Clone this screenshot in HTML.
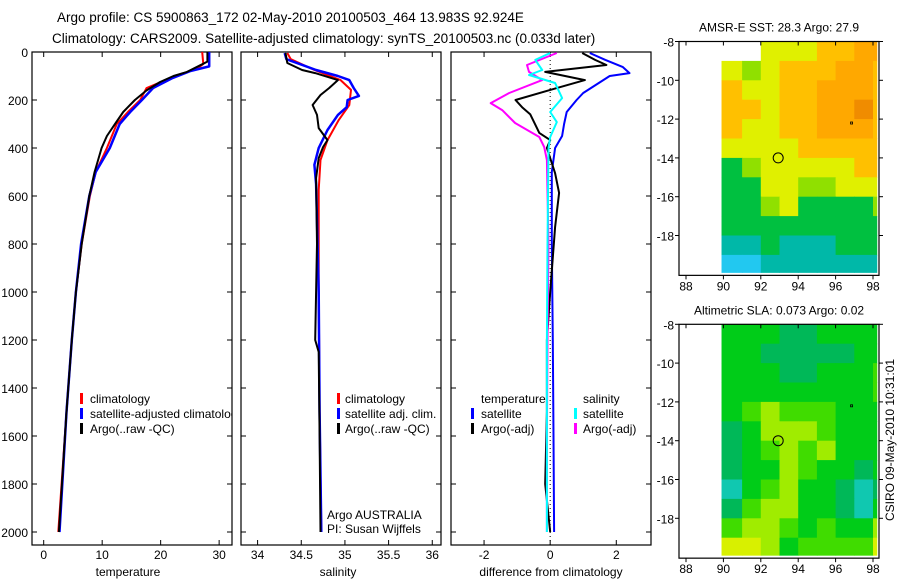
<!DOCTYPE html>
<html><head><meta charset="utf-8"><style>
html,body{margin:0;padding:0;background:#fff;}
svg{display:block;font-family:"Liberation Sans",sans-serif;}
</style></head><body>
<svg id="fig" width="900" height="580" viewBox="0 0 900 580">
<text x="57" y="22" font-size="13.5">Argo profile: CS 5900863_172 02-May-2010 20100503_464 13.983S 92.924E</text>
<text x="52" y="43" font-size="13.5">Climatology: CARS2009. Satellite-adjusted climatology: synTS_20100503.nc (0.033d later)</text>
<g id="plots"></g>
</svg>
<script>
// ---- profile data ----
const tempDepth=[0,40,55,83,100,125,160,200,250,300,350,400,500,600,800,1000,1200,1500,2000];
const tempArgo=[28.0,28.0,26.8,24.5,22.2,19.9,17.6,15.6,13.6,12.2,10.8,9.9,8.7,7.8,6.5,5.5,4.8,3.9,2.6];
const tempClimDepth=[0,50,70,100,150,200,250,300,400,500,600,800,1000,1200,1500,2000];
const tempClim=[27.1,27.3,26.2,22.5,17.6,16.5,14.4,12.5,10.8,8.9,7.9,6.5,5.5,4.8,3.9,2.5];
const tempSatDepth=[0,60,80,110,150,200,250,300,400,500,600,800,1000,1200,1500,2000];
const tempSat=[28.3,28.3,25.0,21.9,18.7,16.8,14.8,13.0,11.3,8.9,7.8,6.4,5.5,4.8,3.9,2.7];

const salArgoDepth=[4,46,75,88,117,150,179,221,262,317,367,396,442,525,800,1200,1250,1600,2000];
const salArgo=[34.32,34.34,34.51,34.66,34.92,34.82,34.72,34.63,34.68,34.70,34.80,34.75,34.70,34.67,34.68,34.66,34.70,34.71,34.72];
const salClimDepth=[4,30,75,117,158,221,283,367,450,575,1000,1500,2000];
const salClim=[34.34,34.38,34.65,34.95,35.07,35.05,34.93,34.80,34.72,34.70,34.70,34.71,34.73];
const salSatDepth=[4,30,75,100,117,150,183,200,230,262,325,400,470,550,1000,1500,2000];
const salSat=[34.31,34.33,34.67,34.92,35.05,35.10,35.16,35.03,35.02,34.92,34.80,34.70,34.65,34.67,34.70,34.71,34.73];

const dTempSatDepth=[4,33,63,88,100,171,200,250,300,350,400,500,800,1200,1600,2000];
const dTempSat=[1.2,1.67,2.2,2.4,1.8,1.0,0.8,0.5,0.42,0.36,0.15,0.05,0.05,0.08,0.1,0.12];
const dTempArgoDepth=[4,33,54,83,117,158,200,230,260,337,367,400,505,587,729,1000,1200,1500,1800,2000];
const dTempArgo=[0.97,1.36,1.7,-0.15,1.05,0.0,-1.05,-0.85,-0.6,-0.33,0.0,-0.1,0.15,0.27,0.15,0.0,-0.1,-0.1,-0.15,0.0];
const dSalArgoDepth=[4,54,83,117,171,213,242,296,354,396,450,800,1200,1600,2000];
const dSalArgo=[0.2,-0.7,-0.64,-0.24,-1.24,-1.8,-1.45,-1.06,-0.33,-0.18,-0.1,-0.05,-0.08,-0.1,-0.1];
const dSalSatDepth=[4,33,75,96,129,192,250,292,354,400,800,1200,1600,2000];
const dSalSat=[0.0,-0.45,-0.24,-0.64,0.15,0.36,0.0,0.2,0.0,-0.05,-0.08,-0.1,-0.1,-0.1];

// ---- map data (1 degree cells, rows from -8 south, cols lon 90..98) ----
const sstLevels=[
[null,null,4,4,4,5,5,6,6],
[4,3,4,5,5,5,6,6,5],
[5,4,4,5,5,6,6,6,5],
[5,5,4,5,5,6,6,7,5],
[5,4,4,5,5,6,6,6,5],
[4,4,4,4,5,5,5,5,5],
[2,3,4,4,4,4,4,5,5],
[2,2,4,4,3,3,4,4,4],
[2,2,3,4,2,2,2,2,3],
[2,2,2,2,2,2,2,2,2],
[1,1,2,1,1,1,2,2,2],
[0,0,1,1,1,1,1,1,1]];
const slaLevels=[
[2,2,2,1,1,2,2,2,2],
[2,2,1,1,1,1,1,2,2],
[2,2,2,1,1,2,2,2,3],
[2,2,2,2,2,2,2,2,3],
[2,3,4,3,3,3,2,2,2],
[1,2,4,4,4,3,2,2,2],
[1,2,3,4,3,4,2,2,2],
[1,2,2,4,3,2,2,1,2],
[0,2,3,4,2,2,1,0,1],
[1,3,4,4,2,2,1,0,2],
[3,4,4,3,2,3,2,2,4],
[5,5,4,2,3,3,3,3,5]];
const sstColors=["#22c8f0","#00b8a8","#00c040","#90e000","#e0f000","#ffc000","#ffa800","#f08c00"];
const slaColors=["#10c8b0","#00b858","#00cc18","#40dc00","#a0ec00","#d8f000"];

const NS="http://www.w3.org/2000/svg";
const root=document.getElementById('plots');
function mk(tag,attrs,parent){const e=document.createElementNS(NS,tag);for(const k in attrs)e.setAttribute(k,attrs[k]);(parent||root).appendChild(e);return e;}

const Y0=52, PXM=0.24, PB=545;
function yD(d){return Y0+d*PXM;}
const depthTicks=[0,200,400,600,800,1000,1200,1400,1600,1800,2000];

function panel(name,x0,x1,xmin,xmax,xticks,xtickLabels,label,labelX){
  const sx=v=>x0+(v-xmin)/(xmax-xmin)*(x1-x0);
  const g=mk('g',{});
  
  
  const r=mk('rect',{x:x0,y:Y0,width:x1-x0,height:PB-Y0,fill:'none',stroke:'#000','stroke-width':1.2},g);
  
  
  xticks.forEach((t,i)=>{
    const x=sx(t);
    mk('line',{x1:x,x2:x,y1:Y0,y2:Y0+5,stroke:'#000'},g);
    mk('line',{x1:x,x2:x,y1:PB,y2:PB-5,stroke:'#000'},g);
    const tl=mk('text',{x:x,y:559,'font-size':12,'text-anchor':'middle'},g);
    tl.textContent=xtickLabels[i];
    
    
  });
  depthTicks.forEach(d=>{
    mk('line',{x1:x0,x2:x0+5,y1:yD(d),y2:yD(d),stroke:'#000'},g);
    mk('line',{x1:x1,x2:x1-5,y1:yD(d),y2:yD(d),stroke:'#000'},g);
  });
  const al=mk('text',{x:labelX,y:576,'font-size':12,'text-anchor':'middle'},g);
  al.textContent=label;
  
  
  return {g,sx};
}
function line(p,depths,vals,color,w,name){
  const pts=depths.map((d,i)=>p.sx(vals[i]).toFixed(1)+','+yD(d).toFixed(1)).join(' ');
  const l=mk('polyline',{points:pts,fill:'none',stroke:color,'stroke-width':w,'stroke-linejoin':'round'},p.g);
  
  
}
function txt(g,x,y,s,name,size){const t=mk('text',{x:x,y:y,'font-size':size||12},g);t.textContent=s;return t;}
function legMark(g,x,y,c){mk('rect',{x:x,y:y-10,width:3,height:11,fill:c},g);}

// depth tick labels
depthTicks.forEach(d=>{
  const t=mk('text',{x:28,y:yD(d)+5,'font-size':12,'text-anchor':'end'});
  t.textContent=d;
  
  
});

// panel 1
const p1=panel('temperature-panel',32,232,-2,32.2,[0,10,20,30],['0','10','20','30'],'temperature',128);
line(p1,tempClimDepth,tempClim,'#f00',2,'temp-climatology-line');
line(p1,tempSatDepth,tempSat,'#00f',2.5,'temp-satellite-line');
line(p1,tempDepth,tempArgo,'#000',2,'temp-argo-line');
mk('clipPath',{id:'c1'}).appendChild(document.createElementNS(NS,'rect'));
const cr=document.querySelector('#c1 rect');cr.setAttribute('x',32);cr.setAttribute('y',52);cr.setAttribute('width',200);cr.setAttribute('height',500);
const lg1=mk('g',{'clip-path':'url(#c1)'},p1.g);

legMark(lg1,80,403,'#f00');txt(lg1,90,403,'climatology','legend-entry');
legMark(lg1,80,418,'#00f');txt(lg1,90,418,'satellite-adjusted climatology','legend-entry');
legMark(lg1,80,433,'#000');txt(lg1,90,433,'Argo(..raw -QC)','legend-entry');

// panel 2
const p2=panel('salinity-panel',241,441,33.81,36.1,[34,34.5,35,35.5,36],['34','34.5','35','35.5','36'],'salinity',338);
line(p2,salClimDepth,salClim,'#f00',2,'sal-climatology-line');
line(p2,salSatDepth,salSat,'#00f',2.5,'sal-satellite-line');
line(p2,salArgoDepth,salArgo,'#000',2,'sal-argo-line');
legMark(p2.g,337,403,'#f00');txt(p2.g,345,403,'climatology','legend-entry');
legMark(p2.g,337,418,'#00f');txt(p2.g,345,418,'satellite adj. clim.','legend-entry');
legMark(p2.g,337,433,'#000');txt(p2.g,345,433,'Argo(..raw -QC)','legend-entry');
txt(p2.g,327,519,'Argo AUSTRALIA','argo-australia-note');
txt(p2.g,327,533,'PI: Susan Wijffels','pi-note');

// panel 3
const p3=panel('difference-panel',451,651,-3.0,3.05,[-2,0,2],['-2','0','2'],'difference from climatology',551);
const z=p3.sx(0);
const zl=mk('line',{x1:z,x2:z,y1:Y0,y2:PB,stroke:'#000','stroke-dasharray':'1,3'},p3.g);

line(p3,dTempSatDepth,dTempSat,'#00f',2,'dtemp-satellite-line');
line(p3,dTempArgoDepth,dTempArgo,'#000',2,'dtemp-argo-line');
line(p3,dSalArgoDepth,dSalArgo,'#f0f',2,'dsal-argo-line');
line(p3,dSalSatDepth,dSalSat,'#0ff',2,'dsal-satellite-line');
txt(p3.g,481,403,'temperature','legend-entry');
legMark(p3.g,471,418,'#00f');txt(p3.g,481,418,'satellite','legend-entry');
legMark(p3.g,471,433,'#000');txt(p3.g,481,433,'Argo(-adj)','legend-entry');
txt(p3.g,583,403,'salinity','legend-entry');
legMark(p3.g,574,418,'#0ff');txt(p3.g,583,418,'satellite','legend-entry');
legMark(p3.g,574,433,'#f0f');txt(p3.g,583,433,'Argo(-adj)','legend-entry');

// maps
function map(name,top,title,levels,colors){
  const L=679,R=879,lonX=lon=>686+(lon-88)*18.7,latY=lat=>top+(-8-lat)*19.4;
  const bottom=latY(-19.9)+3;
  const g=mk('g',{});
  
  levels.forEach((row,ri)=>row.forEach((v,ci)=>{
    if(v===null)return;
    const lon0=ci===0?89.9:90+ci,lon1=Math.min(91+ci,98.2);
    const lat0=-8-ri,lat1=Math.max(-9-ri,-19.9);
    const c=mk('rect',{x:lonX(lon0),y:latY(lat0),width:lonX(lon1)-lonX(lon0)+0.5,height:latY(lat1)-latY(lat0)+0.5,fill:colors[v]},g);
    
  }));
  const fr=mk('rect',{x:L,y:top,width:R-L,height:bottom-top,fill:'none',stroke:'#000','stroke-width':1.2},g);
  
  [-8,-10,-12,-14,-16,-18].forEach(lat=>{
    const y=latY(lat);
    mk('line',{x1:L-4,x2:L,y1:y,y2:y,stroke:'#000'},g);
    mk('line',{x1:R,x2:R+4,y1:y,y2:y,stroke:'#000'},g);
    const t=mk('text',{x:L-5,y:y+5,'font-size':12,'text-anchor':'end'},g);t.textContent=lat;
    
  });
  [88,90,92,94,96,98].forEach(lon=>{
    const x=lonX(lon);
    mk('line',{x1:x,x2:x,y1:top,y2:top+4,stroke:'#000'},g);
    mk('line',{x1:x,x2:x,y1:bottom,y2:bottom+4,stroke:'#000'},g);
    const t=mk('text',{x:x,y:bottom+15,'font-size':12,'text-anchor':'middle'},g);t.textContent=lon;
    
  });
  const tt=mk('text',{x:779,y:top-10,'font-size':12,'text-anchor':'middle'},g);tt.textContent=title;
  
  const c=mk('circle',{cx:lonX(92.93),cy:latY(-14),r:5,fill:'none',stroke:'#000','stroke-width':1},g);
  
  mk('rect',{x:lonX(96.8),y:latY(-12.15),width:2,height:2,fill:'none',stroke:'#000','stroke-width':0.8},g);
}
map('sst-map',41.5,'AMSR-E SST: 28.3 Argo: 27.9',sstLevels,sstColors);
map('sla-map',324.3,'Altimetric SLA: 0.073 Argo: 0.02',slaLevels,slaColors);

const cs=mk('text',{x:0,y:0,'font-size':12,'text-anchor':'middle',transform:'translate(894,440) rotate(-90)'});
cs.textContent='CSIRO 09-May-2010 10:31:01';

</script>
</body></html>
